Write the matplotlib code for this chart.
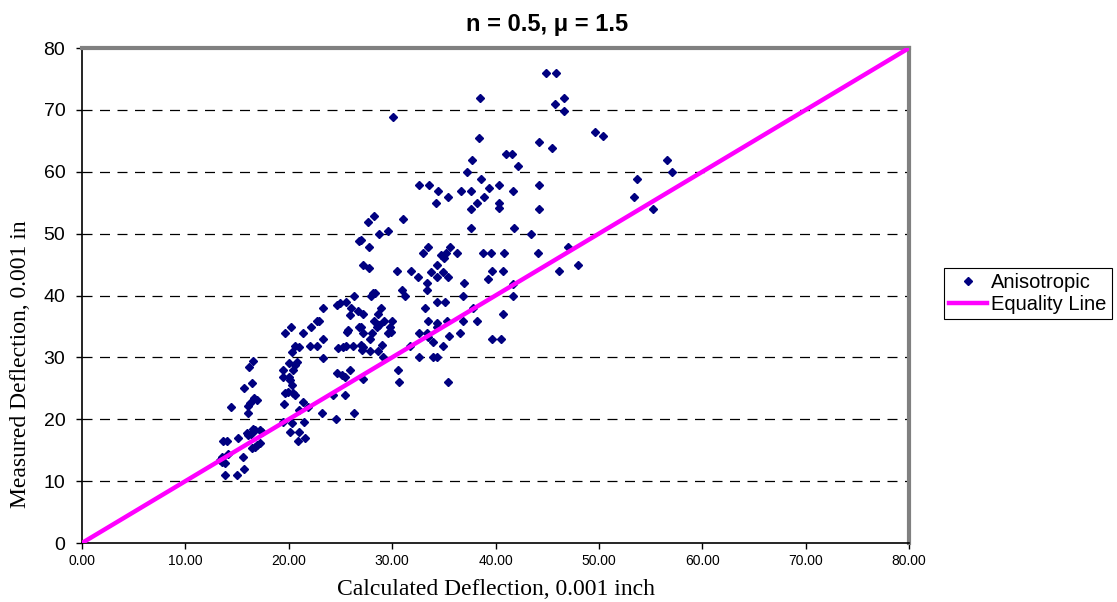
import matplotlib
matplotlib.use("Agg")
import matplotlib.pyplot as plt
from matplotlib.lines import Line2D

# calculated vs measured deflection (0.001 in), anisotropic model
calc = [
    13.5, 13.35, 13.5, 13.8, 14.1, 13.6, 14.0, 13.8, 15.0, 15.6,
    15.7, 15.1, 16.0, 16.1, 16.35, 16.5, 16.7, 17.2, 17.4, 17.2,
    16.9, 16.4, 16.7, 14.4, 16.1, 16.25, 16.1, 16.6, 16.9, 15.7,
    16.4, 16.15, 16.5,
    19.4, 20.3, 21.5, 20.1, 21.0, 20.9, 21.6, 19.5, 21.4, 21.9,
    21.0, 23.2, 19.6, 19.9, 20.4, 20.6, 20.1, 20.3, 19.4, 20.0,
    19.4, 20.4, 20.0, 20.8, 20.6, 20.3, 22.1, 22.7, 20.6, 21.0,
    19.6, 21.4, 23.3, 20.2, 22.2, 22.7, 22.9, 23.3, 23.3,
    24.3, 25.4, 24.7, 25.15, 25.9, 24.6, 26.3, 24.8, 25.5, 26.2,
    25.6, 24.7, 25.5, 26.0, 25.9, 26.7, 25.7, 26.8, 26.3, 26.8,
    25.0, 27.2, 25.2, 27.0, 27.1, 27.2, 27.9, 28.6, 29.0, 29.1,
    25.4, 27.2, 27.2, 28.05, 27.9, 29.6, 27.0, 28.5, 28.7, 29.8,
    29.9, 28.2, 29.2, 30.0, 28.9, 28.6, 28.15, 28.3, 27.95, 27.2,
    27.8, 27.0, 27.8, 27.7, 28.2, 28.7, 29.6, 31.1, 30.1, 30.6,
    30.7, 31.7, 30.95, 31.2, 30.5, 31.8,
    32.5, 34.3, 35.4, 33.8, 34.9, 33.4, 33.4, 32.6, 33.6, 34.4,
    36.7, 37.6, 35.4, 34.2, 38.2, 37.6, 38.9, 39.4, 40.3, 40.3,
    40.3, 37.2, 37.7, 38.6, 38.4, 38.5, 37.6, 33.0, 33.5, 34.7,
    35.2, 35.0, 35.6, 36.3, 38.8, 39.6, 40.8, 44.1, 34.3, 39.7,
    40.7, 39.3, 41.7, 46.1, 37.0, 34.3, 35.1, 33.2, 37.8, 36.9,
    33.5, 35.3, 36.9, 38.2, 34.3, 34.3, 32.6, 33.4, 33.5, 36.6,
    34.0, 35.5, 39.7, 40.5, 41.7, 40.7, 34.9, 32.6, 34.0, 34.3,
    35.4,
    41.7, 44.2, 44.2, 41.8, 43.4, 41.0, 41.6, 42.2, 44.2, 45.5,
    44.9, 45.9, 45.75, 46.6, 46.6, 49.6, 50.4, 56.6, 57.1, 53.7,
    53.4, 55.2, 47.0, 48.0,
]
measured = [
    13.9, 13.4, 13.1, 12.9, 14.4, 16.5, 16.5, 11.0, 11.0, 13.9,
    12.0, 17.0, 17.8, 17.5, 17.6, 18.4, 18.3, 18.3, 17.9, 16.2,
    15.8, 15.4, 15.5, 22.0, 21.0, 22.6, 22.1, 23.4, 23.1, 25.0,
    25.9, 28.4, 29.4,
    19.6, 19.4, 19.6, 17.9, 17.9, 16.5, 17.0, 22.5, 22.8, 22.0,
    21.5, 21.0, 24.2, 24.4, 24.2, 23.9, 26.3, 25.5, 26.8, 26.8,
    28.0, 28.0, 29.1, 29.25, 28.8, 30.9, 31.8, 31.8, 31.8, 31.7,
    33.9, 33.9, 33.0, 34.9, 34.9, 35.9, 35.9, 38.0, 29.9,
    23.9, 23.9, 27.5, 27.2, 28.0, 20.0, 21.0, 31.5, 31.8, 31.8,
    34.1, 38.5, 39.0, 38.0, 36.8, 37.5, 34.4, 34.9, 39.9, 48.8,
    38.8, 37.0, 31.7, 32.0, 31.2, 31.7, 31.0, 31.0, 32.0, 30.1,
    26.8, 26.5, 33.9, 33.9, 33.0, 33.9, 34.9, 34.9, 35.2, 34.9,
    34.1, 35.9, 35.9, 35.9, 38.0, 37.0, 40.4, 40.4, 39.9, 44.9,
    44.4, 49.0, 47.8, 51.9, 52.8, 49.9, 50.4, 52.4, 68.8, 28.0,
    26.0, 31.8, 40.9, 39.9, 44.0, 44.0,
    43.0, 43.0, 43.0, 43.8, 43.8, 42.0, 40.9, 57.9, 57.9, 56.9,
    56.9, 56.9, 55.9, 54.9, 54.9, 54.0, 55.9, 57.4, 57.9, 54.9,
    54.1, 60.0, 61.9, 58.8, 65.5, 71.9, 50.9, 46.9, 47.8, 46.5,
    46.9, 46.1, 47.8, 46.9, 46.9, 46.9, 46.9, 46.9, 44.9, 44.0,
    44.0, 42.7, 41.9, 44.0, 42.0, 38.9, 38.9, 38.0, 38.0, 39.9,
    35.9, 35.9, 35.9, 35.9, 35.6, 34.9, 33.9, 33.9, 33.3, 33.9,
    32.5, 33.5, 33.0, 33.0, 39.9, 37.0, 31.8, 30.1, 30.1, 30.1,
    26.0,
    56.9, 57.9, 54.0, 50.9, 49.9, 62.9, 62.9, 60.9, 64.8, 63.8,
    76.0, 76.0, 70.9, 71.9, 69.8, 66.4, 65.8, 61.9, 60.0, 58.8,
    55.9, 54.0, 47.8, 44.9,
]
equality = [0, 80]

x_ticks = [0, 10, 20, 30, 40, 50, 60, 70, 80]
y_ticks = [0, 10, 20, 30, 40, 50, 60, 70, 80]

sans = ["Liberation Sans", "DejaVu Sans"]
serif = ["Liberation Serif", "DejaVu Serif"]

fig = plt.figure(figsize=(11.17, 6.02), dpi=100)
ax = fig.add_axes([0.0734, 0.098, 0.7404, 0.8222])

for yv in y_ticks[1:-1]:
    ax.axhline(yv, color="black", lw=0.9, dashes=(8, 6), zorder=1)

ax.plot(calc, measured, linestyle="none", marker="D", ms=4.3,
        color="#000080", zorder=3)
ax.plot(equality, equality, color="#FF00FF", lw=3.2, zorder=4,
        solid_capstyle="round")

ax.set_xlim(0, 80)
ax.set_ylim(0, 80)
ax.set_xticks(x_ticks)
ax.set_yticks(y_ticks)
ax.set_xticklabels([f"{v:.2f}" for v in x_ticks], family=sans, fontsize=10)
ax.set_yticklabels([str(v) for v in y_ticks], family=sans, fontsize=14)
ax.tick_params(direction="out", length=4, width=1, colors="black")
ax.tick_params(axis="x", pad=4)
ax.tick_params(axis="y", pad=8)

for side in ("top", "right"):
    ax.spines[side].set_color("#808080")
    ax.spines[side].set_linewidth(3)
for side in ("left", "bottom"):
    ax.spines[side].set_color("black")
    ax.spines[side].set_linewidth(1.2)

fig.text(0.49, 0.96, "n = 0.5, \u03bc = 1.5", family=sans, fontsize=17,
         fontweight="bold", ha="center", va="center")
fig.text(0.444, 0.02, "Calculated Deflection, 0.001 inch", family=serif,
         fontsize=17, ha="center", va="center")
fig.text(0.018, 0.395, "Measured Deflection, 0.001 in", family=serif,
         fontsize=17, ha="center", va="center", rotation=90)

handles = [
    Line2D([], [], linestyle="none", marker="D", ms=4, color="#000080"),
    Line2D([], [], color="#FF00FF", lw=3.2),
]
leg = fig.legend(handles, ["Anisotropic", "Equality Line"],
                 loc="upper left", bbox_to_anchor=(0.845, 0.555),
                 prop={"family": sans, "size": 14.5}, fancybox=False,
                 edgecolor="black", framealpha=1, handlelength=1.9,
                 handletextpad=0.2, borderpad=0.25, labelspacing=0.15,
                 borderaxespad=0)
leg.get_frame().set_linewidth(0.8)

fig.savefig("out.png", dpi=100)
